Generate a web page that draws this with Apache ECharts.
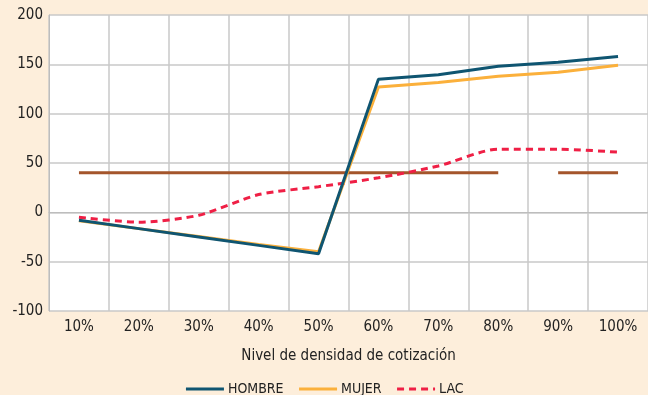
<!DOCTYPE html>
<html>
<head>
<meta charset="utf-8">
<script src="https://cdn.jsdelivr.net/npm/echarts@6/dist/echarts.min.js"></script>
<style>
  html, body { margin: 0; padding: 0; background: #fdeedb; }
  #chart { width: 648px; height: 395px; }
</style>
</head>
<body>
<div id="chart"></div>
<script>
// Niveles de densidad de cotización (eje X)
const categorias = ['10%', '20%', '30%', '40%', '50%', '60%', '70%', '80%', '90%', '100%'];

// Series por grupo
const hombre = [-8, -16.5, -25, -33.5, -42, 135, 139.5, 148, 152, 158];
const mujer  = [-8.5, -16.5, -24.5, -32.5, -40, 127, 131.5, 138, 142, 149];
const lac    = [-5, -10, -3, 18, 26, 35, 47, 64, 64, 61];

// Línea de referencia (tramo 10%-80% y tramo 90%-100%)
const referenciaA = [40, 40, 40, 40, 40, 40, 40, 40, null, null];
const referenciaB = [null, null, null, null, null, null, null, null, 40, 40];

// Marcas del eje Y
const yMin = -100, yMax = 200, yPaso = 50;

const fuente = "'Liberation Sans Narrow', 'DejaVu Sans Condensed', 'Roboto', sans-serif";

const chart = echarts.init(document.getElementById('chart'), null, { renderer: 'canvas' });

chart.setOption({
  backgroundColor: '#fdeedb',
  animation: false,
  textStyle: { fontFamily: fuente },
  grid: {
    left: 49, right: 0, top: 15, bottom: 84,
    show: true, backgroundColor: '#ffffff', borderWidth: 0
  },
  legend: {
    top: 377,
    left: 'center',
    itemWidth: 38,
    itemHeight: 14,
    itemGap: 14,
    itemStyle: { opacity: 0 },
    lineStyle: { width: 3 },
    textStyle: { fontFamily: fuente, fontSize: 14, color: '#222', padding: [0, 0, 0, -1] },
    data: ['HOMBRE', 'MUJER', 'LAC']
  },
  xAxis: {
    type: 'category',
    data: categorias,
    boundaryGap: true,
    name: 'Nivel de densidad de cotización',
    nameLocation: 'middle',
    nameGap: 38,
    nameTextStyle: { fontFamily: fuente, fontSize: 15, color: '#222' },
    axisLine: { show: true, lineStyle: { color: '#bdbdbd', width: 1 } },
    axisTick: { show: false },
    axisLabel: { fontFamily: fuente, fontSize: 15, color: '#222', margin: 9 },
    splitLine: { show: true, lineStyle: { color: '#c8c8c8', width: 1.5 } }
  },
  yAxis: {
    type: 'value',
    min: yMin,
    max: yMax,
    interval: yPaso,
    axisLine: { show: true, lineStyle: { color: '#bdbdbd', width: 1 } },
    axisTick: { show: false },
    axisLabel: { fontFamily: fuente, fontSize: 15, color: '#222', margin: 6 },
    splitLine: { show: true, lineStyle: { color: '#c8c8c8', width: 1.5 } }
  },
  series: [
    {
      name: 'REF_A', type: 'line', data: referenciaA, symbol: 'none',
      connectNulls: false, silent: true,
      lineStyle: { color: '#a4552b', width: 3 }, itemStyle: { color: '#a4552b' }
    },
    {
      name: 'REF_B', type: 'line', data: referenciaB, symbol: 'none',
      connectNulls: false, silent: true,
      lineStyle: { color: '#a4552b', width: 3 }, itemStyle: { color: '#a4552b' }
    },
    {
      name: 'LAC', type: 'line', data: lac, symbol: 'none', smooth: 0.25,
      lineStyle: { color: '#ef1f45', width: 3, type: [7, 5] },
      itemStyle: { color: '#ef1f45' }
    },
    {
      name: 'MUJER', type: 'line', data: mujer, symbol: 'none',
      lineStyle: { color: '#fbb03b', width: 3 },
      itemStyle: { color: '#fbb03b' }
    },
    {
      name: 'HOMBRE', type: 'line', data: hombre, symbol: 'none',
      lineStyle: { color: '#0f5571', width: 3 },
      itemStyle: { color: '#0f5571' }
    }
  ]
});
</script>
</body>
</html>
